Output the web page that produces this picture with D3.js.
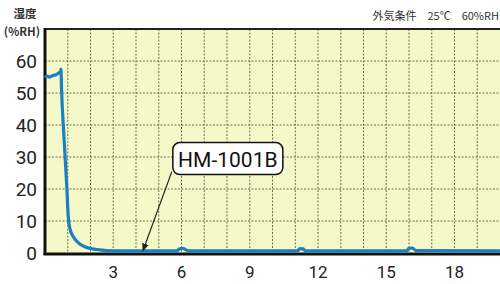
<!DOCTYPE html>
<html>
<head>
<meta charset="utf-8">
<script src="https://cdn.jsdelivr.net/npm/d3@7"></script>
<style>
  body { margin: 0; background: #fff; }
  svg { display: block; }
</style>
</head>
<body>
<div id="app"></div>
<script>
// humidity over time (hours) for HM-1001B
const hours = [0, 0.1, 0.2, 0.35, 0.5, 0.6, 0.68, 0.7, 0.73, 0.8, 0.88, 0.96, 1.02, 1.1, 1.25, 1.45, 1.75, 2.1, 2.4, 3,
  5.8, 5.9, 6.05, 6.2, 6.3, 11.1, 11.2, 11.35, 11.45, 15.9, 16, 16.15, 16.3, 20];
const humidity = [54.3, 54.8, 54.5, 55, 55.3, 55.8, 56.2, 57, 50, 40, 30, 20, 11, 7, 4.5, 2.8, 1.5, 0.8, 0.5, 0.2,
  0.2, 0.8, 1.0, 0.5, 0.2, 0.2, 0.9, 0.8, 0.2, 0.2, 1.0, 1.1, 0.3, 0.2];
const xTicks = [3, 6, 9, 12, 15, 18];
const yTicks = [0, 10, 20, 30, 40, 50, 60];
const seriesName = 'HM-1001B';
const calloutAt = 4.3; // hour the label points to

const W = 500, H = 284;
const margin = { left: 45, right: 0, top: 29, bottom: 31 };

const svg = d3.select('#app').append('svg').attr('width', W).attr('height', H);

const x = d3.scaleLinear().domain([0, 20]).range([margin.left, W - margin.right]);
const y = d3.scaleLinear().domain([0, 70]).range([H - margin.bottom, margin.top]);

// background
svg.append('rect')
  .attr('x', x(0)).attr('y', y(70))
  .attr('width', x(20) - x(0)).attr('height', y(0) - y(70))
  .attr('fill', '#f5f9c9');

// grid
svg.append('g').selectAll('line')
  .data(d3.range(1, 20))
  .join('line')
  .attr('x1', (d) => x(d)).attr('x2', (d) => x(d))
  .attr('y1', y(70)).attr('y2', y(0))
  .attr('stroke', '#6e6e55').attr('stroke-width', 1)
  .attr('stroke-dasharray', '2,1.5');

svg.append('g').selectAll('line')
  .data(d3.range(10, 70, 10))
  .join('line')
  .attr('x1', x(0)).attr('x2', x(20))
  .attr('y1', (d) => y(d)).attr('y2', (d) => y(d))
  .attr('stroke', '#6e6e55').attr('stroke-width', 1)
  .attr('stroke-dasharray', '2,1.5');

// frame
svg.append('line')
  .attr('x1', x(0)).attr('x2', x(20)).attr('y1', y(70)).attr('y2', y(70))
  .attr('stroke', '#222').attr('stroke-width', 2);
svg.append('line')
  .attr('x1', x(0)).attr('x2', x(0)).attr('y1', y(70) - 1).attr('y2', y(0) + 2)
  .attr('stroke', '#111').attr('stroke-width', 3);
svg.append('line')
  .attr('x1', x(0) - 1.5).attr('x2', x(20)).attr('y1', y(0) + 1).attr('y2', y(0) + 1)
  .attr('stroke', '#111').attr('stroke-width', 3);

// y labels
svg.append('g').selectAll('text')
  .data(yTicks)
  .join('text')
  .attr('x', 37).attr('y', (d) => y(d) + 7)
  .attr('text-anchor', 'end')
  .attr('font-family', 'Roboto, "Noto Sans", sans-serif')
  .attr('font-size', 19)
  .attr('fill', '#222')
  .text((d) => d);

// x labels
svg.append('g').selectAll('text')
  .data(xTicks)
  .join('text')
  .attr('x', (d) => x(d)).attr('y', 278)
  .attr('text-anchor', 'middle')
  .attr('font-family', 'Roboto, "Noto Sans", sans-serif')
  .attr('font-size', 17)
  .attr('fill', '#222')
  .text((d) => d);

// axis titles
svg.append('text')
  .attr('x', 25).attr('y', 18)
  .attr('text-anchor', 'middle')
  .attr('font-family', '"Noto Sans CJK JP", sans-serif')
  .attr('font-size', 11.5).attr('font-weight', 'bold').attr('fill', '#333')
  .text('湿度');
svg.append('text')
  .attr('x', 22).attr('y', 36)
  .attr('text-anchor', 'middle')
  .attr('font-family', '"Noto Sans CJK JP", sans-serif')
  .attr('font-size', 11.5).attr('font-weight', 'bold').attr('fill', '#333')
  .text('(%RH)');
svg.append('text')
  .attr('x', 499).attr('y', 20)
  .attr('text-anchor', 'end')
  .attr('font-family', '"Noto Sans CJK JP", sans-serif')
  .attr('font-size', 11).attr('fill', '#333')
  .attr('xml:space', 'preserve')
  .text('外気条件　25℃　60%RH');

// series line
const data = hours.map((h, i) => ({ h, v: humidity[i] }));
const line = d3.line()
  .x((d) => x(d.h))
  .y((d) => y(d.v) - 1.5)
  .curve(d3.curveMonotoneX);

svg.append('path')
  .datum(data)
  .attr('d', line)
  .attr('fill', 'none')
  .attr('stroke', '#1b7fc1')
  .attr('stroke-width', 3.2)
  .attr('stroke-linejoin', 'round');

// callout
svg.append('defs').append('marker')
  .attr('id', 'arr')
  .attr('viewBox', '0 0 10 10')
  .attr('refX', 9).attr('refY', 5)
  .attr('markerWidth', 7).attr('markerHeight', 7)
  .attr('orient', 'auto')
  .append('path').attr('d', 'M0,1 L10,5 L0,9 Z').attr('fill', '#222');

const bx = x(calloutAt) + 30, by = y(34.5);
svg.append('line')
  .attr('x1', bx - 1).attr('y1', by + 29)
  .attr('x2', x(calloutAt)).attr('y2', y(0) - 2)
  .attr('stroke', '#222').attr('stroke-width', 1.2)
  .attr('marker-end', 'url(#arr)');

svg.append('rect')
  .attr('x', bx).attr('y', by)
  .attr('width', 110).attr('height', 32)
  .attr('rx', 7)
  .attr('fill', '#fff').attr('stroke', '#111').attr('stroke-width', 1.5);

svg.append('text')
  .attr('x', bx + 55).attr('y', by + 24)
  .attr('text-anchor', 'middle')
  .attr('font-family', 'Roboto, "Noto Sans", sans-serif')
  .attr('font-size', 21)
  .attr('fill', '#111')
  .text(seriesName);
</script>
</body>
</html>
